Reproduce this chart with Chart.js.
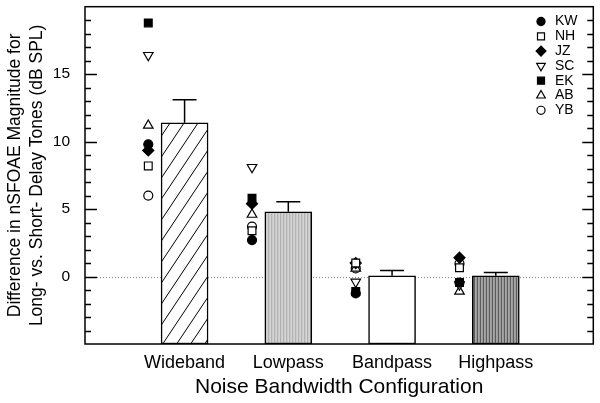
<!DOCTYPE html>
<html lang="en">
<head>
  <meta charset="UTF-8">
  <title>nSFOAE difference by noise bandwidth</title>
  <script src="https://cdn.jsdelivr.net/npm/chart.js"></script>
  <style>
    html, body { margin: 0; padding: 0; background: #fff; }
    #wrap { width: 600px; height: 403px; }
  </style>
</head>
<body>
  <div id="wrap">
    <canvas id="myChart" width="600" height="403"></canvas>
  </div>

  <script>
    // data
    const categories = ['Wideband', 'Lowpass', 'Bandpass', 'Highpass'];
    const meanDiff = [11.4, 4.8, 0.05, 0.05];
    const errUpper = [13.1, 5.55, 0.45, 0.3];
    const subjects = ['KW', 'NH', 'JZ', 'SC', 'EK', 'AB', 'YB'];
    const KW = [9.8, 2.7, -1.25, -0.45];
    const NH = [8.2, 3.4, 1.0, 0.65];
    const JZ = [9.35, 5.4, 1.0, 1.4];
    const SC = [16.4, 8.1, -0.4, -0.6];
    const EK = [18.8, 5.8, -1.1, -0.45];
    const AB = [11.2, 4.6, 0.6, -1.1];
    const YB = [6.0, 3.7, 0.6, 0.95];
    const yTickLabels = [0, 5, 10, 15];

    const subjectValues = { KW, NH, JZ, SC, EK, AB, YB };

    // marker look per subject
    const markerStyle = {
      KW: { pointStyle: 'circle', filled: true, radius: 4.5, rotation: 0 },
      NH: { pointStyle: 'rect', filled: false, radius: 5.5, rotation: 0 },
      JZ: { pointStyle: 'rectRot', filled: true, radius: 5.5, rotation: 0 },
      SC: { pointStyle: 'triangle', filled: false, radius: 5.5, rotation: 180 },
      EK: { pointStyle: 'rect', filled: true, radius: 5.5, rotation: 0 },
      AB: { pointStyle: 'triangle', filled: false, radius: 5.5, rotation: 0 },
      YB: { pointStyle: 'circle', filled: false, radius: 4.5, rotation: 0 }
    };

    const FONT = "'Liberation Sans', Arial, Helvetica, sans-serif";
    const MARKER_SHIFT = -0.35;

    function stripes(colors) {
      const c = document.createElement('canvas');
      c.width = colors.length; c.height = 4;
      const g = c.getContext('2d');
      colors.forEach((col, i) => { g.fillStyle = col; g.fillRect(i, 0, 1, 4); });
      return g.createPattern(c, 'repeat');
    }

    function hatch() {
      const w = 14, h = 21;
      const c = document.createElement('canvas');
      c.width = w; c.height = h;
      const g = c.getContext('2d');
      g.fillStyle = '#fff';
      g.fillRect(0, 0, w, h);
      g.strokeStyle = '#000';
      g.lineWidth = 1;
      for (const dx of [-w, 0, w]) {
        g.beginPath();
        g.moveTo(dx - 2, h + 3);
        g.lineTo(dx + w + 2, -3);
        g.stroke();
      }
      return g.createPattern(c, 'repeat');
    }

    const barFills = [
      hatch(),
      stripes(['#d4d4d4', '#b2b2b2', '#cacaca']),
      '#ffffff',
      stripes(['#5c5c5c', '#a6a6a6', '#9a9a9a'])
    ];

    const pointSets = subjects.map(s => {
      const st = markerStyle[s];
      return {
        type: 'scatter',
        label: s,
        data: subjectValues[s].map((v, i) => ({ x: i + MARKER_SHIFT, y: v })),
        pointStyle: st.pointStyle,
        pointRadius: st.radius,
        rotation: st.rotation,
        pointBackgroundColor: st.filled ? '#000' : '#fff',
        pointBorderColor: '#000',
        pointBorderWidth: 1.2,
        showLine: false
      };
    });

    const barSet = {
      type: 'bar',
      label: 'mean',
      data: meanDiff.map((v, i) => ({ x: i, y: [-5, v] })),
      backgroundColor: barFills,
      borderColor: '#000',
      borderWidth: 1.5,
      borderSkipped: false,
      barThickness: 47
    };

    // zero line, error bars, frame with inward ticks, legend
    const decorations = {
      id: 'decorations',
      beforeDatasetsDraw(chart) {
        const { ctx, chartArea: a, scales: { y } } = chart;
        const y0 = Math.round(y.getPixelForValue(0)) + 0.5;
        ctx.save();
        ctx.strokeStyle = '#888';
        ctx.lineWidth = 1;
        ctx.setLineDash([1, 2]);
        ctx.beginPath();
        ctx.moveTo(a.left, y0);
        ctx.lineTo(a.right, y0);
        ctx.stroke();
        ctx.restore();
      },
      afterDatasetsDraw(chart) {
        const { ctx, chartArea: a, scales: { x, y } } = chart;
        ctx.save();
        ctx.strokeStyle = '#000';
        ctx.lineWidth = 1.5;

        // error bars (upper only)
        errUpper.forEach((e, i) => {
          const px = x.getPixelForValue(i);
          const top = y.getPixelForValue(e);
          const base = y.getPixelForValue(meanDiff[i]);
          ctx.beginPath();
          ctx.moveTo(px, base);
          ctx.lineTo(px, top);
          ctx.moveTo(px - 12, top);
          ctx.lineTo(px + 12, top);
          ctx.stroke();
        });

        // frame
        ctx.strokeRect(a.left, a.top, a.right - a.left, a.bottom - a.top);

        // ticks inward, left and right
        ctx.lineWidth = 1.3;
        for (let v = -4; v <= 19; v++) {
          const py = Math.round(y.getPixelForValue(v)) + 0.5;
          const major = v % 5 === 0;
          ctx.beginPath();
          ctx.moveTo(a.left, py);
          ctx.lineTo(a.left + (major ? 12 : 6), py);
          ctx.moveTo(a.right, py);
          ctx.lineTo(a.right - (major ? 11 : 6), py);
          ctx.stroke();
        }

        // legend
        ctx.font = '14px ' + FONT;
        ctx.textBaseline = 'middle';
        ctx.textAlign = 'left';
        subjects.forEach((s, i) => {
          const st = markerStyle[s];
          const ly = 21.5 + i * 14.8;
          ctx.fillStyle = st.filled ? '#000' : '#fff';
          ctx.strokeStyle = '#000';
          ctx.lineWidth = 1.2;
          Chart.helpers.drawPoint(ctx, {
            pointStyle: st.pointStyle,
            radius: st.radius * 0.9,
            rotation: st.rotation,
            borderWidth: 1.2
          }, 541, ly);
          ctx.fillStyle = '#000';
          ctx.fillText(s, 555, ly);
        });
        ctx.restore();
      }
    };

    const ctx = document.getElementById('myChart').getContext('2d');
    const myChart = new Chart(ctx, {
      type: 'bar',
      data: { datasets: [...pointSets, barSet] },
      options: {
        responsive: false,
        animation: false,
        layout: { padding: { top: 3, right: 5, left: 0, bottom: 0 } },
        plugins: {
          legend: { display: false },
          tooltip: { enabled: false }
        },
        scales: {
          x: {
            type: 'linear',
            min: -0.96,
            max: 3.94,
            offset: false,
            grid: { display: false, drawTicks: false },
            border: { display: false },
            afterFit: s => { s.height = 59; s.paddingLeft = 0; s.paddingRight = 0; },
            afterBuildTicks: s => { s.ticks = categories.map((c, i) => ({ value: i })); },
            ticks: {
              autoSkip: false,
              maxRotation: 0,
              padding: 8,
              color: '#000',
              font: { family: FONT, size: 18 },
              callback: v => categories[v] ?? ''
            },
            title: {
              display: true,
              text: 'Noise Bandwidth Configuration',
              color: '#000',
              font: { family: FONT, size: 21 },
              padding: { top: 0, bottom: 3 }
            }
          },
          y: {
            min: -5,
            max: 20,
            grid: { display: false, drawTicks: false },
            border: { display: false },
            afterFit: s => { s.width = 85; s.paddingTop = 0; s.paddingBottom = 0; },
            afterBuildTicks: s => { s.ticks = yTickLabels.map(v => ({ value: v })); },
            ticks: {
              padding: 15,
              color: '#000',
              font: { family: FONT, size: 15.5 }
            },
            title: {
              display: true,
              text: ['Difference in nSFOAE Magnitude for', 'Long- vs. Short- Delay Tones (dB SPL)'],
              color: '#000',
              font: { family: FONT, size: 17.5, lineHeight: 22 / 17.5 },
              padding: { top: 4, bottom: 0 }
            }
          }
        }
      },
      plugins: [decorations]
    });
  </script>
</body>
</html>
